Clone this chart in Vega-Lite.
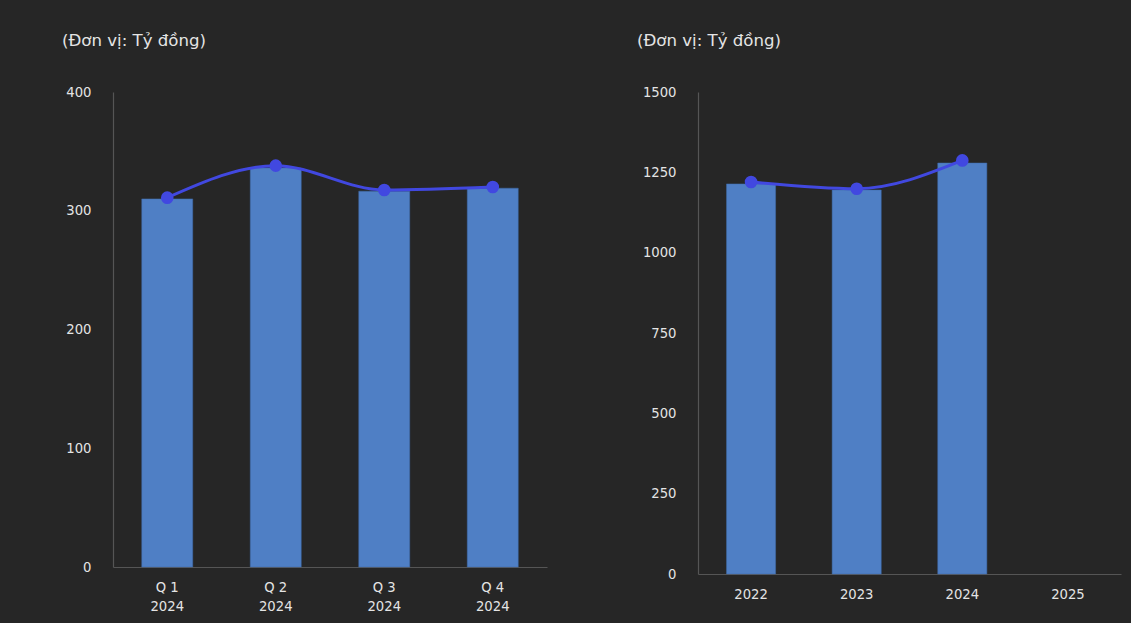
{
  "$schema": "https://vega.github.io/schema/vega-lite/v6.json",
  "background": "#262626",
  "padding": {"left": 62, "top": 33, "right": 10, "bottom": 10},
  "spacing": 90,
  "config": {
    "view": {"stroke": null},
    "font": "DejaVu Sans",
    "axis": {
      "domainColor": "#555555",
      "domainWidth": 1.2,
      "ticks": false,
      "grid": false,
      "labelColor": "#e4e4e4",
      "labelFont": "DejaVu Sans",
      "labelFontSize": 13.2,
      "title": null
    },
    "title": {"color": "#e4e4e4", "fontSize": 16.6, "fontWeight": "normal", "font": "DejaVu Sans", "anchor": "start", "frame": "group"}
  },
  "hconcat": [
    {
      "title": {"text": "(Đơn vị: Tỷ đồng)", "dx": -51, "offset": 35},
      "width": 434,
      "height": 475,
      "data": {"values": [
        {"period": "Q 1|2024", "bar": 310, "line": 311},
        {"period": "Q 2|2024", "bar": 336, "line": 338},
        {"period": "Q 3|2024", "bar": 316.5, "line": 317.5},
        {"period": "Q 4|2024", "bar": 319, "line": 320}
      ]},
      "encoding": {
        "x": {"field": "period", "type": "nominal", "sort": null,
          "scale": {"paddingInner": 0.53, "paddingOuter": 0.265},
          "axis": {"labelAngle": 0, "labelPadding": 14, "labelExpr": "split(datum.value, '|')", "labelLineHeight": 19}}
      },
      "layer": [
        {"mark": {"type": "bar", "color": "#4f7fc5", "stroke": "#3f6aa8", "strokeWidth": 0.5},
         "encoding": {"y": {"field": "bar", "type": "quantitative",
           "scale": {"domain": [0, 400], "nice": false},
           "axis": {"values": [0, 100, 200, 300, 400], "labelPadding": 22, "format": "d"}}}},
        {"mark": {"type": "line", "color": "#4148e0", "strokeWidth": 3, "interpolate": "monotone"},
         "encoding": {"y": {"field": "line", "type": "quantitative"}}},
        {"mark": {"type": "circle", "color": "#4148e0", "opacity": 1, "size": 160},
         "encoding": {"y": {"field": "line", "type": "quantitative"}}}
      ]
    },
    {
      "title": {"text": "(Đơn vị: Tỷ đồng)", "dx": -61, "offset": 35},
      "width": 423,
      "height": 482,
      "data": {"values": [
        {"period": "2022", "bar": 1214, "line": 1220},
        {"period": "2023", "bar": 1195, "line": 1199},
        {"period": "2024", "bar": 1279, "line": 1287},
        {"period": "2025", "bar": null, "line": null}
      ]},
      "encoding": {
        "x": {"field": "period", "type": "nominal", "sort": null,
          "scale": {"domain": ["2022", "2023", "2024", "2025"], "paddingInner": 0.535, "paddingOuter": 0.27},
          "axis": {"labelAngle": 0, "labelPadding": 14}}
      },
      "layer": [
        {"mark": {"type": "bar", "color": "#4f7fc5", "stroke": "#3f6aa8", "strokeWidth": 0.5},
         "encoding": {"y": {"field": "bar", "type": "quantitative",
           "scale": {"domain": [0, 1500], "nice": false},
           "axis": {"values": [0, 250, 500, 750, 1000, 1250, 1500], "labelPadding": 22, "format": "d"}}}},
        {"transform": [{"filter": "isValid(datum.line)"}],
         "mark": {"type": "line", "color": "#4148e0", "strokeWidth": 3, "interpolate": "monotone"},
         "encoding": {"y": {"field": "line", "type": "quantitative"}}},
        {"transform": [{"filter": "isValid(datum.line)"}],
         "mark": {"type": "circle", "color": "#4148e0", "opacity": 1, "size": 160},
         "encoding": {"y": {"field": "line", "type": "quantitative"}}}
      ]
    }
  ]
}
